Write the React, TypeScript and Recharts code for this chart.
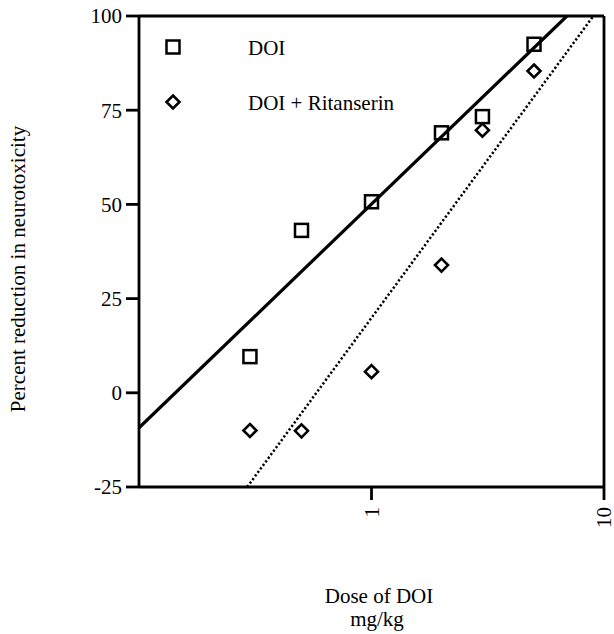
import React from "react";
import {
  ComposedChart,
  Scatter,
  XAxis,
  YAxis,
  ReferenceLine,
  Legend,
} from "recharts";

// Doses (mg/kg)
const doses = [0.3, 0.5, 1, 2, 3, 5];
// Percent reduction in neurotoxicity
const doiValues = [9.6, 43.1, 50.7, 69.0, 73.3, 92.5];
const doiRitValues = [-10.0, -10.1, 5.6, 33.9, 69.7, 85.4];
// Fitted regression lines (end points, in data units)
const doiFitX = [0.1, 6.93];
const doiFitY = [-9.3, 100];
const ritFitX = [0.292, 9.0];
const ritFitY = [-25, 100];

const yTicks = [-25, 0, 25, 50, 75, 100];
const xTicks = [1, 10];
const legendLabels = ["DOI", "DOI + Ritanserin"];

const FONT = "'Liberation Serif', 'Times New Roman', serif";

const doiData = doses.map((x, i) => ({ x, y: doiValues[i] }));
const ritData = doses.map((x, i) => ({ x, y: doiRitValues[i] }));
const doiFit = doiFitX.map((x, i) => ({ x, y: doiFitY[i] }));
const ritFit = ritFitX.map((x, i) => ({ x, y: ritFitY[i] }));

const SquareShape = (props: any) => {
  const { cx, cy } = props;
  const s = 13;
  return (
    <rect
      x={cx - s / 2}
      y={cy - s / 2}
      width={s}
      height={s}
      fill="none"
      stroke="#000"
      strokeWidth={2.5}
    />
  );
};

const DiamondShape = (props: any) => {
  const { cx, cy } = props;
  const r = 6.5;
  return (
    <polygon
      points={`${cx},${cy - r} ${cx + r},${cy} ${cx},${cy + r} ${cx - r},${cy}`}
      fill="none"
      stroke="#000"
      strokeWidth={2.6}
    />
  );
};

const NoShape = () => <g />;

const XTick = (props: any) => {
  const { x, y, payload } = props;
  return (
    <text
      x={x}
      y={y}
      transform={`rotate(-90 ${x} ${y})`}
      textAnchor="end"
      dominantBaseline="central"
      fontFamily={FONT}
      fontSize={21}
      fill="#000"
    >
      {payload.value}
    </text>
  );
};

const LegendContent = () => (
  <svg width={300} height={100} style={{ display: "block" }}>
    <SquareShape cx={13} cy={17} />
    <text x={88} y={25} fontFamily={FONT} fontSize={21} fill="#000">
      {legendLabels[0]}
    </text>
    <DiamondShape cx={13} cy={72} />
    <text x={88} y={80} fontFamily={FONT} fontSize={21} fill="#000">
      {legendLabels[1]}
    </text>
  </svg>
);

const YTitle = () => (
  <text
    x={18}
    y={269}
    transform="rotate(-90 18 269)"
    textAnchor="middle"
    dominantBaseline="central"
    fontFamily={FONT}
    fontSize={21}
    fill="#000"
  >
    Percent reduction in neurotoxicity
  </text>
);

const XTitle = () => (
  <text textAnchor="middle" fontFamily={FONT} fontSize={21} fill="#000">
    <tspan x={379} y={603}>
      Dose of DOI
    </tspan>
    <tspan x={377} y={626}>
      mg/kg
    </tspan>
  </text>
);

export default function App() {
  return (
    <div style={{ position: "absolute", left: 0, top: 0 }}>
      <ComposedChart
        width={614}
        height={634}
        margin={{ top: 16, right: 10, left: 0, bottom: 87 }}
      >
        <XAxis
          type="number"
          dataKey="x"
          scale="log"
          domain={[0.1, 10]}
          ticks={xTicks}
          allowDataOverflow
          height={60}
          tickSize={13}
          tickMargin={7}
          tick={<XTick />}
          axisLine={{ stroke: "#000", strokeWidth: 2.8 }}
          tickLine={{ stroke: "#000", strokeWidth: 2.8 }}
          label={<XTitle />}
        />
        <YAxis
          type="number"
          dataKey="y"
          domain={[-25, 100]}
          ticks={yTicks}
          allowDataOverflow
          width={139}
          tickSize={13}
          tickMargin={4}
          tick={{ fontFamily: FONT, fontSize: 21, fill: "#000" }}
          axisLine={{ stroke: "#000", strokeWidth: 2.8 }}
          tickLine={{ stroke: "#000", strokeWidth: 2.8 }}
          label={<YTitle />}
        />
        <ReferenceLine y={100} stroke="#000" strokeWidth={2.8} />
        <ReferenceLine x={10} stroke="#000" strokeWidth={2.8} />
        <Scatter
          data={doiFit}
          line={{ stroke: "#000", strokeWidth: 3.2 }}
          shape={NoShape}
          isAnimationActive={false}
          legendType="none"
        />
        <Scatter
          data={ritFit}
          line={{ stroke: "#000", strokeWidth: 2.5, strokeDasharray: "2.2 2.2" }}
          shape={NoShape}
          isAnimationActive={false}
          legendType="none"
        />
        <Scatter
          data={doiData}
          shape={SquareShape}
          isAnimationActive={false}
          name={legendLabels[0]}
        />
        <Scatter
          data={ritData}
          shape={DiamondShape}
          isAnimationActive={false}
          name={legendLabels[1]}
        />
        <Legend
          layout="vertical"
          align="center"
          verticalAlign="middle"
          content={<LegendContent />}
          wrapperStyle={{ left: 160, top: 30, width: 300, height: 100 }}
        />
      </ComposedChart>
    </div>
  );
}
